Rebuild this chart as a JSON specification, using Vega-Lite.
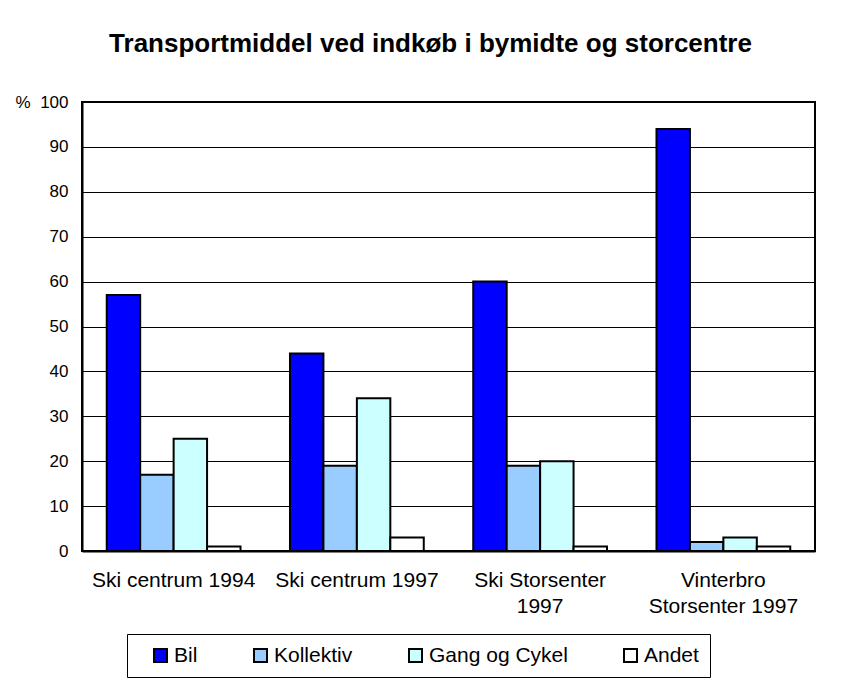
{
  "$schema": "https://vega.github.io/schema/vega-lite/v6.json",
  "autosize": {"type": "none"},
  "width": 733,
  "height": 449,
  "padding": {"left": 82, "top": 102, "right": 30, "bottom": 130},
  "background": "white",
  "title": {
    "text": "Transportmiddel ved indkøb i bymidte og storcentre",
    "font": "Liberation Sans",
    "fontSize": 26,
    "fontWeight": "bold",
    "color": "black",
    "anchor": "middle",
    "frame": "group",
    "offset": 36,
    "dx": -18
  },
  "data": {
    "values": [
      {"sted": "Ski centrum 1994", "type": "Bil", "pct": 57},
      {"sted": "Ski centrum 1994", "type": "Kollektiv", "pct": 17},
      {"sted": "Ski centrum 1994", "type": "Gang og Cykel", "pct": 25},
      {"sted": "Ski centrum 1994", "type": "Andet", "pct": 1},
      {"sted": "Ski centrum 1997", "type": "Bil", "pct": 44},
      {"sted": "Ski centrum 1997", "type": "Kollektiv", "pct": 19},
      {"sted": "Ski centrum 1997", "type": "Gang og Cykel", "pct": 34},
      {"sted": "Ski centrum 1997", "type": "Andet", "pct": 3},
      {"sted": "Ski Storsenter|1997", "type": "Bil", "pct": 60},
      {"sted": "Ski Storsenter|1997", "type": "Kollektiv", "pct": 19},
      {"sted": "Ski Storsenter|1997", "type": "Gang og Cykel", "pct": 20},
      {"sted": "Ski Storsenter|1997", "type": "Andet", "pct": 1},
      {"sted": "Vinterbro|Storsenter 1997", "type": "Bil", "pct": 94},
      {"sted": "Vinterbro|Storsenter 1997", "type": "Kollektiv", "pct": 2},
      {"sted": "Vinterbro|Storsenter 1997", "type": "Gang og Cykel", "pct": 3},
      {"sted": "Vinterbro|Storsenter 1997", "type": "Andet", "pct": 1}
    ]
  },
  "mark": {"type": "bar", "stroke": "black", "strokeWidth": 2},
  "encoding": {
    "x": {
      "field": "sted",
      "type": "nominal",
      "sort": null,
      "scale": {"paddingInner": 0.27, "paddingOuter": 0.135},
      "axis": {
        "title": null,
        "labelAngle": 0,
        "labelExpr": "split(datum.label, '|')",
        "labelFont": "Liberation Sans",
        "labelFontSize": 21,
        "labelColor": "black",
        "labelLineHeight": 26,
        "labelPadding": 18,
        "labelLimit": 300,
        "ticks": false,
        "domain": true,
        "domainColor": "black",
        "domainWidth": 2
      }
    },
    "xOffset": {"field": "type", "type": "nominal", "sort": ["Bil", "Kollektiv", "Gang og Cykel", "Andet"], "scale": {"paddingInner": 0, "paddingOuter": 0}},
    "y": {
      "field": "pct",
      "type": "quantitative",
      "scale": {"domain": [0, 100], "nice": false},
      "axis": {
        "title": "%",
        "titleAngle": 0,
        "titleX": -67,
        "titleY": 0,
        "titleBaseline": "middle",
        "titleAlign": "left",
        "titleFont": "Liberation Sans",
        "titleFontSize": 17,
        "titleFontWeight": "normal",
        "titleColor": "black",
        "values": [0, 10, 20, 30, 40, 50, 60, 70, 80, 90, 100],
        "labelFont": "Liberation Sans",
        "labelFontSize": 17,
        "labelColor": "black",
        "labelPadding": 14,
        "ticks": false,
        "grid": true,
        "gridColor": "black",
        "gridWidth": 1,
        "domainColor": "black",
        "domainWidth": 2
      }
    },
    "color": {
      "field": "type",
      "type": "nominal",
      "sort": ["Bil", "Kollektiv", "Gang og Cykel", "Andet"],
      "scale": {"domain": ["Bil", "Kollektiv", "Gang og Cykel", "Andet"], "range": ["#0000FF", "#99CCFF", "#CCFFFF", "#FFFFFF"]},
      "legend": {
        "title": " ",
        "titleOrient": "left",
        "titleFontSize": 20,
        "titlePadding": 12,
        "orient": "none",
        "legendX": 45,
        "legendY": 532,
        "direction": "horizontal",
        "columns": 4,
        "columnPadding": 52,
        "padding": 11,
        "strokeColor": "black",
        "symbolType": "square",
        "symbolSize": 169,
        "symbolStrokeColor": "black",
        "symbolStrokeWidth": 2,
        "symbolOpacity": 1,
        "labelFont": "Liberation Sans",
        "labelFontSize": 21,
        "labelColor": "black",
        "labelOffset": 3,
        "labelExpr": "datum.label == 'Andet' ? 'Andet      ' : datum.label"
      }
    }
  },
  "config": {
    "view": {"stroke": "black", "strokeWidth": 2}
  }
}
